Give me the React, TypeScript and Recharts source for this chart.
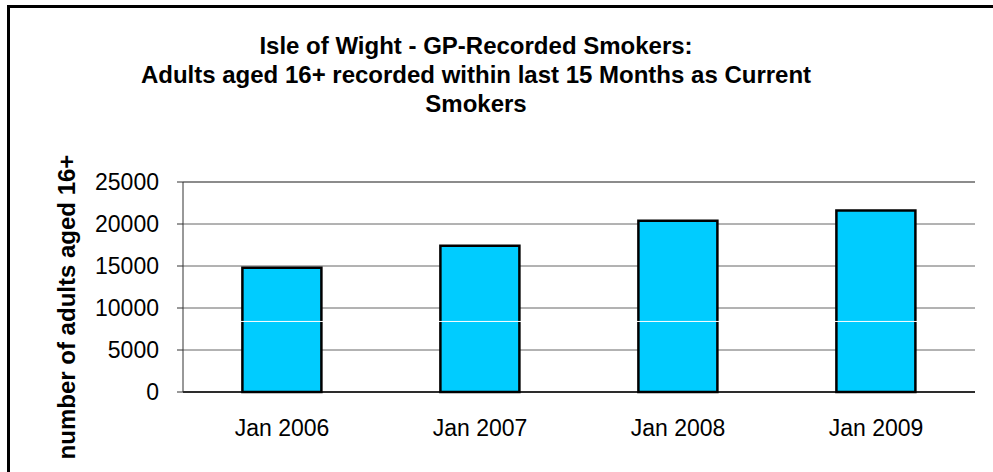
import { Bar, BarChart, CartesianGrid, ReferenceLine, XAxis, YAxis } from 'recharts'

const categories = ['Jan 2006', 'Jan 2007', 'Jan 2008', 'Jan 2009']
const smokers = [14800, 17400, 20400, 21600]
const yTicks = [0, 5000, 10000, 15000, 20000, 25000]
const edgeTicks = [0, 1, 2, 3, 4]
const titleLines = [
  'Isle of Wight - GP-Recorded Smokers:',
  'Adults aged 16+ recorded within last 15 Months as Current',
  'Smokers',
]
const yLabel = 'number of adults aged 16+'

const FONT = '"Liberation Sans", Arial, sans-serif'

export default function App() {
  const data = categories.map((c, i) => ({ month: c, smokers: smokers[i] }))

  return (
    <div
      style={{
        position: 'absolute',
        left: 0,
        top: 0,
        width: 993,
        height: 472,
        overflow: 'hidden',
        background: '#fff',
        fontFamily: FONT,
      }}
    >
      <div
        style={{
          position: 'absolute',
          left: 7,
          top: 5,
          width: 1100,
          height: 600,
          borderLeft: '3px solid #000',
          borderTop: '3px solid #000',
        }}
      />
      <div
        style={{
          position: 'absolute',
          left: 76,
          top: 31,
          width: 800,
          textAlign: 'center',
          fontSize: 24,
          lineHeight: '29px',
          fontWeight: 'bold',
          color: '#000',
        }}
      >
        {titleLines.map((t) => (
          <div key={t}>{t}</div>
        ))}
      </div>
      <div
        style={{
          position: 'absolute',
          left: 67 - 200,
          top: 307 - 12,
          width: 400,
          height: 24,
          lineHeight: '24px',
          textAlign: 'center',
          fontSize: 24,
          fontWeight: 'bold',
          transform: 'rotate(-90deg)',
          transformOrigin: 'center',
          whiteSpace: 'nowrap',
        }}
      >
        {yLabel}
      </div>
      <div style={{ position: 'absolute', left: 0, top: 0 }}>
        <BarChart
          width={993}
          height={472}
          data={data}
          margin={{ top: 182, right: 18, left: 103, bottom: 0 }}
          barCategoryGap="30%"
        >
          <CartesianGrid vertical={false} stroke="#666" xAxisId="edge" />
          <XAxis
            xAxisId="edge"
            type="number"
            domain={[0, 4]}
            ticks={edgeTicks}
            tick={false}
            axisLine={false}
            tickLine={{ stroke: '#000' }}
            tickSize={6}
            height={0}
          />
          <XAxis
            xAxisId="cat"
            dataKey="month"
            axisLine={{ stroke: '#000', strokeWidth: 1.5 }}
            tickLine={false}
            tickSize={0}
            tickMargin={28}
            height={80}
            interval={0}
            tick={{ fontSize: 23, fill: '#000', fontFamily: FONT }}
          />
          <YAxis
            domain={[0, 25000]}
            ticks={yTicks}
            interval={0}
            width={80}
            tickSize={6}
            tickMargin={18}
            axisLine={{ stroke: '#333' }}
            tickLine={{ stroke: '#333' }}
            tick={{ fontSize: 23, fill: '#000', fontFamily: FONT }}
          />
          <Bar
            xAxisId="cat"
            dataKey="smokers"
            fill="#00CCFF"
            stroke="#000"
            strokeWidth={2.5}
            isAnimationActive={false}
          />
          <ReferenceLine xAxisId="cat" y={8400} stroke="#fff" strokeWidth={1} />
          <ReferenceLine xAxisId="cat" y={25000} stroke="#8c8c8c" strokeWidth={2} />
          <ReferenceLine xAxisId="edge" x={4} stroke="#8c8c8c" strokeWidth={2.5} />
        </BarChart>
      </div>
    </div>
  )
}
